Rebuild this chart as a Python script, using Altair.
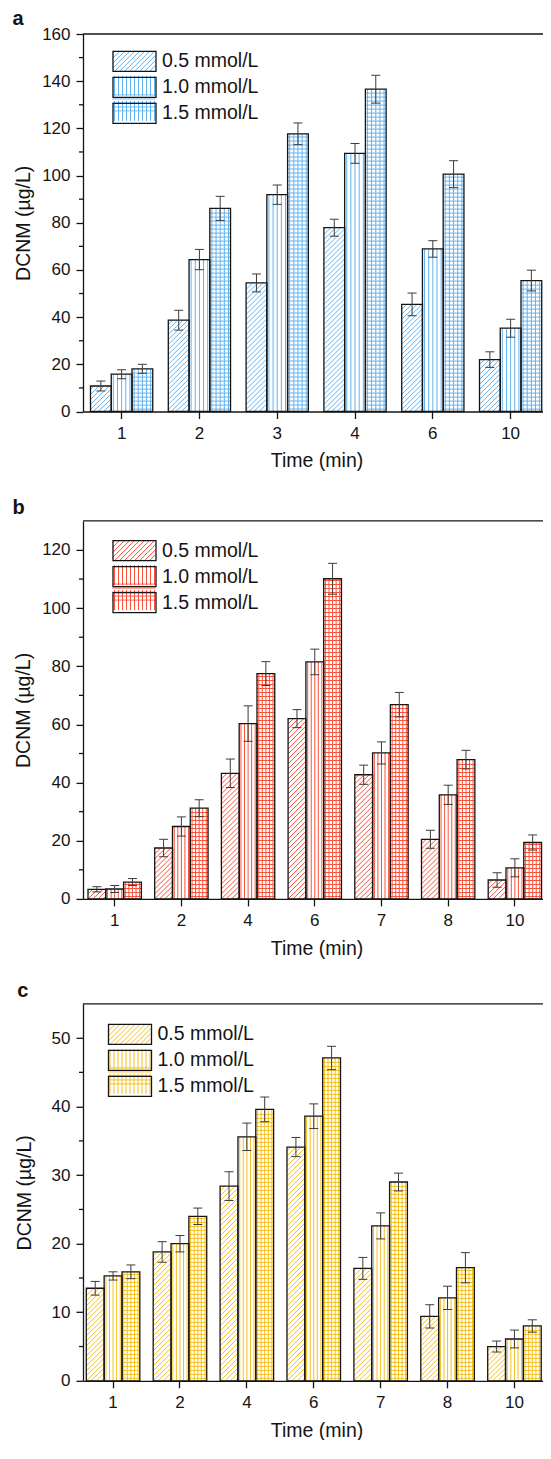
import altair as alt

FONT = "Liberation Sans, Arial, Helvetica, sans-serif"
INK = "#141414"
CLEAR = "rgba(255,255,255,0)"
CONCS = ["0.5 mmol/L", "1.0 mmol/L", "1.5 mmol/L"]

# ---------------- data ----------------
times_a = ["1", "2", "3", "4", "6", "10"]
a_05 = [10.8, 38.7, 54.5, 77.9, 45.4, 22.0]
a_10 = [15.8, 64.4, 91.9, 109.4, 68.9, 35.3]
a_15 = [18.1, 86.1, 117.7, 136.6, 100.6, 55.5]
a_05_err = [2.1, 4.2, 3.8, 3.6, 4.8, 3.3]
a_10_err = [1.9, 4.3, 4.1, 4.2, 3.5, 3.8]
a_15_err = [1.9, 5.1, 4.6, 5.9, 5.7, 4.4]

times_bc = ["1", "2", "4", "6", "7", "8", "10"]
b_05 = [3.3, 17.5, 43.2, 62.0, 42.7, 20.5, 6.5]
b_10 = [3.4, 24.9, 60.3, 81.5, 50.2, 35.8, 10.7]
b_15 = [5.8, 31.2, 77.5, 110.1, 66.8, 47.9, 19.4]
b_05_err = [0.9, 3.0, 4.9, 3.1, 3.3, 3.1, 2.5]
b_10_err = [1.2, 3.3, 6.1, 4.4, 3.8, 3.3, 3.1]
b_15_err = [1.2, 2.9, 4.1, 5.3, 4.2, 3.2, 2.6]

c_05 = [13.5, 18.8, 28.4, 34.1, 16.4, 9.4, 5.0]
c_10 = [15.3, 20.0, 35.6, 38.6, 22.6, 12.1, 6.1]
c_15 = [15.9, 24.0, 39.6, 47.1, 29.0, 16.5, 8.0]
c_05_err = [1.0, 1.5, 2.1, 1.4, 1.6, 1.7, 0.8]
c_10_err = [0.6, 1.2, 2.0, 1.8, 1.9, 1.7, 1.3]
c_15_err = [1.0, 1.2, 1.8, 1.7, 1.3, 2.2, 0.9]

major_a = [0, 20, 40, 60, 80, 100, 120, 140, 160]
minor_a = [10, 30, 50, 70, 90, 110, 130, 150]
major_b = [0, 20, 40, 60, 80, 100, 120]
minor_b = [10, 30, 50, 70, 90, 110]
major_c = [0, 10, 20, 30, 40, 50]
minor_c = [5, 15, 25, 35, 45]

# ---------------- hatch styling ----------------
K_V = 5          # vertical hatch lines per bar
M_D = 30         # horizontal resolution used for diagonal hatch lines
HATCH_PX = 4.0   # spacing of horizontal hatch lines (px)
DIAG_PX = 5.0    # horizontal spacing of diagonal hatch lines (px)
SLOTS_V = [f"{ci}_{j}" for ci in range(3) for j in range(K_V)]
SLOTS_D = [f"{ci}_{j}" for ci in range(3) for j in range(M_D)]

# legend swatch paths (unit box -2.15..2.15 x -1..1, scaled 10 px / unit)
RECT = "M-2.15,-1L2.15,-1L2.15,1L-2.15,1Z"
VERT = "".join(f"M{-2.15 + 0.4 * (i + 0.5):.3f},-1L{-2.15 + 0.4 * (i + 0.5):.3f},1"
               for i in range(11))
HOR = "".join(f"M-2.15,{-1 + 0.4 * (i + 0.5):.3f}L2.15,{-1 + 0.4 * (i + 0.5):.3f}"
              for i in range(5))


def diag_path():
    parts = []
    c = -3.15 + 0.25
    while c < 3.15:
        xa, xb = max(-2.15, c - 1), min(2.15, c + 1)
        if xb - xa > 0.05:
            parts.append(f"M{xa:.3f},{c - xa:.3f}L{xb:.3f},{c - xb:.3f}")
        c += 0.5
    return "".join(parts)


DIAG = diag_path()
W_PLOT = 467


def panel(letter, times, vals, errs, ymax, major, minor, H, step, first_off,
          col, legend_xy, ytitle_pad, letter_xy):
    W = W_PLOT
    n = len(times)
    pin = 0.2
    pout = (W / step - (n - pin)) / 2
    al = first_off / (W - step * (n - pin))
    bw = step * (1 - pin) / 3
    ppu = H / ymax            # pixels per data unit
    du = HATCH_PX / ppu

    rows, diag_pts, vert_rows, hor_rows = [], [], [], []
    for ci, conc in enumerate(CONCS):
        for ti, (t, v, e) in enumerate(zip(times, vals[ci], errs[ci])):
            rows.append({"time": t, "conc": conc, "value": v, "lo": v - e, "hi": v + e})
            h = v * ppu
            if ci == 0:
                # "/" hatch: height = x + c, clipped to the bar
                c = -bw + DIAG_PX / 2
                k = 0
                while c < h:
                    xa, xb = max(0.0, -c), min(bw, h - c)
                    if xb - xa > 1.0:
                        ja = min(M_D - 1, max(0, round(xa / bw * M_D - 0.5)))
                        jb = min(M_D - 1, max(0, round(xb / bw * M_D - 0.5)))
                        for j in (ja, jb):
                            xx = (j + 0.5) / M_D * bw
                            hh = min(h, max(0.0, xx + c))
                            diag_pts.append({"time": t, "slot": f"0_{j}",
                                             "y": round(hh / ppu, 4),
                                             "seg": f"{ti}_{k}", "o": j})
                    c += DIAG_PX
                    k += 1
            else:
                for j in range(K_V):
                    vert_rows.append({"time": t, "slot": f"{ci}_{j}", "value": v, "z": 0})
            if ci == 2:
                yv = du * 0.6
                while yv < v - du * 0.3:
                    hor_rows.append({"time": t, "conc": conc, "hy": round(yv, 4)})
                    yv += du

    base = alt.Chart(alt.Data(values=rows))
    xs = alt.Scale(domain=times, paddingInner=pin, paddingOuter=pout, align=al)
    ys = alt.Scale(domain=[0, ymax], nice=False, zero=True)
    xo = alt.XOffset("conc:N", sort=CONCS,
                     scale=alt.Scale(domain=CONCS, paddingInner=0, paddingOuter=0))
    xo_v = alt.XOffset("slot:N", sort=SLOTS_V,
                       scale=alt.Scale(domain=SLOTS_V, paddingInner=0, paddingOuter=0))
    xo_d = alt.XOffset("slot:N", sort=SLOTS_D,
                       scale=alt.Scale(domain=SLOTS_D, paddingInner=0, paddingOuter=0))
    x_axis = alt.Axis(title="Time (min)", labelAngle=0, tickSize=7,
                      labelPadding=6.5, titlePadding=10.8)
    y_axis = alt.Axis(values=major, title="DCNM (µg/L)", tickSize=7,
                      labelPadding=6, titlePadding=ytitle_pad)
    xn = alt.X("time:N", sort=times, scale=xs, axis=x_axis)

    def yq(field):
        return alt.Y(field, scale=ys, axis=y_axis)

    p_diag = alt.Chart(alt.Data(values=diag_pts)).mark_line(
        color=col, strokeWidth=1, strokeCap="butt").encode(
        x=xn, xOffset=xo_d, y=yq("y:Q"), detail="seg:N", order="o:Q")
    p_vert = alt.Chart(alt.Data(values=vert_rows)).mark_rule(
        color=col, strokeWidth=1).encode(
        x=xn, xOffset=xo_v, y=yq("value:Q"), y2="z:Q")
    p_hor = alt.Chart(alt.Data(values=hor_rows)).mark_tick(
        orient="horizontal", size=bw, thickness=1, color=col, opacity=1).encode(
        x=xn, xOffset=xo, y=yq("hy:Q"))
    outline = base.mark_bar(fillOpacity=0, stroke=INK, strokeWidth=1.3).encode(
        x=xn, xOffset=xo, y=yq("value:Q"))
    ecol = "#3c3c3c"
    rule = base.mark_rule(color=ecol, strokeWidth=1).encode(
        x=xn, xOffset=xo, y=yq("lo:Q"), y2="hi:Q")
    cap_lo = base.mark_tick(orient="horizontal", size=9, thickness=1,
                            color=ecol, opacity=1).encode(
        x=xn, xOffset=xo, y=yq("lo:Q"))
    cap_hi = base.mark_tick(orient="horizontal", size=9, thickness=1,
                            color=ecol, opacity=1).encode(
        x=xn, xOffset=xo, y=yq("hi:Q"))
    minor_ticks = alt.Chart(alt.Data(values=[{"m": m} for m in minor])).mark_rule(
        color=INK, strokeWidth=1.3).encode(
        y=yq("m:Q"), x=alt.value(-4), x2=alt.value(0))
    top = alt.Chart(alt.Data(values=[{"k": 1}])).mark_rule(
        color=INK, strokeWidth=1.3).encode(
        x=alt.value(0), x2=alt.value(W), y=alt.value(0))
    tag = alt.Chart(alt.Data(values=[{"t": letter}])).mark_text(
        align="left", baseline="alphabetic", fontSize=20, fontWeight="bold",
        font=FONT, color=INK).encode(
        text="t:N", x=alt.value(letter_xy[0]), y=alt.value(letter_xy[1]))

    # legend: four overlaid legends (outline + labels, "/", "|", "-" hatch swatches)
    leg_common = dict(orient="none", legendX=legend_xy[0], legendY=legend_xy[1],
                      title=None, symbolSize=400, labelFont=FONT, labelFontSize=19.5,
                      labelOffset=16.5, rowPadding=0, padding=0, symbolOpacity=1)
    hidden = dict(labelExpr="''", symbolStrokeWidth=1, **leg_common)
    empty = base.transform_filter("false")
    leg_lab = empty.mark_bar(stroke=INK, strokeWidth=1.3).encode(
        fill=alt.Fill("conc:N", scale=alt.Scale(domain=CONCS, range=[CLEAR] * 3),
                      legend=alt.Legend(symbolType=RECT, symbolStrokeColor=INK,
                                        symbolStrokeWidth=1.3, labelColor=INK,
                                        **leg_common)))
    leg_d = empty.mark_bar(filled=False, strokeWidth=1).encode(
        color=alt.Color("kd:N", scale=alt.Scale(domain=["d0", "d1", "d2"],
                                                range=[col, CLEAR, CLEAR]),
                        legend=alt.Legend(symbolType=DIAG, **hidden)))
    leg_v = empty.mark_bar(filled=False, strokeWidth=1).encode(
        stroke=alt.Stroke("kv:N", scale=alt.Scale(domain=["v0", "v1", "v2"],
                                                  range=[CLEAR, col, col]),
                          legend=alt.Legend(symbolType=VERT, **hidden)))
    leg_h = empty.mark_bar(filled=False, stroke=col, strokeWidth=1).encode(
        strokeDash=alt.StrokeDash("kh:N", scale=alt.Scale(domain=["h0", "h1", "h2"],
                                                          range=[[0, 60], [0, 60], [1, 0]]),
                                  legend=alt.Legend(symbolType=HOR,
                                                    symbolStrokeColor=col, **hidden)))

    return alt.layer(p_diag, p_vert, p_hor, outline, rule, cap_lo, cap_hi,
                     minor_ticks, top, tag, leg_d, leg_v, leg_h, leg_lab).resolve_scale(
        xOffset="independent").properties(width=W, height=H)


pa = panel("a", times_a, [a_05, a_10, a_15], [a_05_err, a_10_err, a_15_err],
           160, major_a, minor_a, 377.5, 77.8, 7.5, "#62B2EF", (40.5, 16.4), 7.9,
           (-70.4, -8.6))
pb = panel("b", times_bc, [b_05, b_10, b_15], [b_05_err, b_10_err, b_15_err],
           130, major_b, minor_b, 378, 66.7, 5.0, "#F9533C", (40.5, 18.7), 7.9,
           (-70.4, -7))
pc = panel("c", times_bc, [c_05, c_10, c_15], [c_05_err, c_10_err, c_15_err],
           55, major_c, minor_c, 377, 66.9, 3.3, "#F5C01E", (36, 19.6), 16.8,
           (-65.8, -6.7))

RES = dict(x="independent", y="independent", xOffset="independent",
           color="independent", fill="independent", stroke="independent",
           strokeDash="independent")
LEG = dict(color="independent", fill="independent", stroke="independent",
           strokeDash="independent")
lower = alt.vconcat(pb, pc, spacing=22.9).resolve_scale(**RES).resolve_legend(**LEG)
chart = alt.vconcat(pa, lower, spacing=26.9).resolve_scale(**RES).resolve_legend(
    **LEG).configure_view(stroke=None).configure_axis(
    labelFont=FONT, titleFont=FONT, labelFontSize=17, titleFontSize=19.5,
    titleFontWeight="normal", labelColor=INK, titleColor=INK,
    domainColor=INK, domainWidth=1.3, tickColor=INK, tickWidth=1.3,
    grid=False).properties(
    padding={"left": 4, "top": 1, "right": -8, "bottom": 0})

chart.save("out.html", embed_options={"renderer": "svg", "actions": False})
